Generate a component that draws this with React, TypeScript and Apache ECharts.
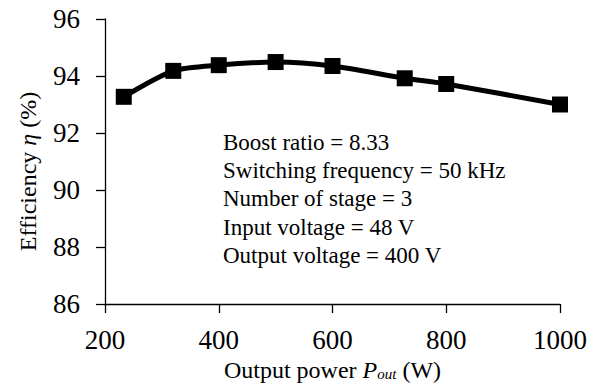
import React, { useEffect, useRef } from "react";
import * as echarts from "echarts";

const powerW = [233, 320, 400, 500, 600, 727, 800, 1000];
const efficiency = [93.27, 94.18, 94.38, 94.49, 94.35, 93.92, 93.72, 93.0];
const xTicks = { min: 200, max: 1000, interval: 200 };
const yTicks = { min: 86, max: 96, interval: 2 };
const notes = [
  "Boost ratio = 8.33",
  "Switching frequency = 50 kHz",
  "Number of stage = 3",
  "Input voltage = 48 V",
  "Output voltage = 400 V",
];

const FONT = "'Liberation Serif', 'Times New Roman', serif";

export default function App() {
  const ref = useRef<HTMLDivElement>(null);
  useEffect(() => {
    if (!ref.current) return;
    const chart = echarts.init(ref.current, null, { renderer: "svg" });
    chart.setOption({
      animation: false,
      backgroundColor: "#ffffff",
      textStyle: { fontFamily: FONT, color: "#000" },
      grid: { left: 105, right: 50, top: 19, bottom: 84 },
      xAxis: {
        type: "value",
        min: xTicks.min,
        max: xTicks.max,
        interval: xTicks.interval,
        name: "Output power {i|P}{s|out} (W)",
        nameLocation: "middle",
        nameGap: 53,
        nameTextStyle: {
          fontFamily: FONT,
          fontSize: 24,
          color: "#000",
          rich: {
            i: { fontFamily: FONT, fontSize: 24, fontStyle: "italic", color: "#000" },
            s: {
              fontFamily: FONT,
              fontSize: 15,
              fontStyle: "italic",
              color: "#000",
              verticalAlign: "bottom",
            },
          },
        },
        axisLine: { show: true, lineStyle: { color: "#000", width: 1.3 } },
        axisTick: { show: true, inside: false, length: 9, lineStyle: { color: "#000", width: 1.3 } },
        axisLabel: {
          fontFamily: FONT,
          fontSize: 27,
          color: "#000",
          margin: 22,
          formatter: (v: number) => String(v),
        },
        splitLine: { show: false },
      },
      yAxis: {
        type: "value",
        min: yTicks.min,
        max: yTicks.max,
        interval: yTicks.interval,
        name: "Efficiency {i|η} (%)",
        nameLocation: "middle",
        nameRotate: 90,
        nameGap: 65,
        nameTextStyle: {
          fontFamily: FONT,
          fontSize: 24,
          color: "#000",
          padding: [0, 20, 0, 0],
          rich: {
            i: { fontFamily: FONT, fontSize: 24, fontStyle: "italic", color: "#000" },
          },
        },
        axisLine: { show: true, lineStyle: { color: "#000", width: 1.3 } },
        axisTick: { show: true, inside: false, length: 9, lineStyle: { color: "#000", width: 1.3 } },
        axisLabel: {
          fontFamily: FONT,
          fontSize: 27,
          color: "#000",
          margin: 25,
          formatter: (v: number) => String(v),
        },
        splitLine: { show: false },
      },
      series: [
        {
          type: "line",
          data: powerW.map((p, i) => [p, efficiency[i]]),
          smooth: 0.25,
          symbol: "rect",
          symbolSize: 16,
          lineStyle: { color: "#000", width: 5 },
          itemStyle: { color: "#000" },
        },
      ],
      graphic: [
        {
          type: "text",
          x: 223,
          y: 128,
          style: {
            text: notes.join("\n"),
            fontFamily: FONT,
            fontSize: 23,
            lineHeight: 28.3,
            fill: "#000",
            align: "left",
            verticalAlign: "top",
          },
        },
      ],
    });
    return () => chart.dispose();
  }, []);
  return (
    <div
      ref={ref}
      style={{ position: "fixed", left: 0, top: 0, width: 610, height: 388 }}
    />
  );
}
